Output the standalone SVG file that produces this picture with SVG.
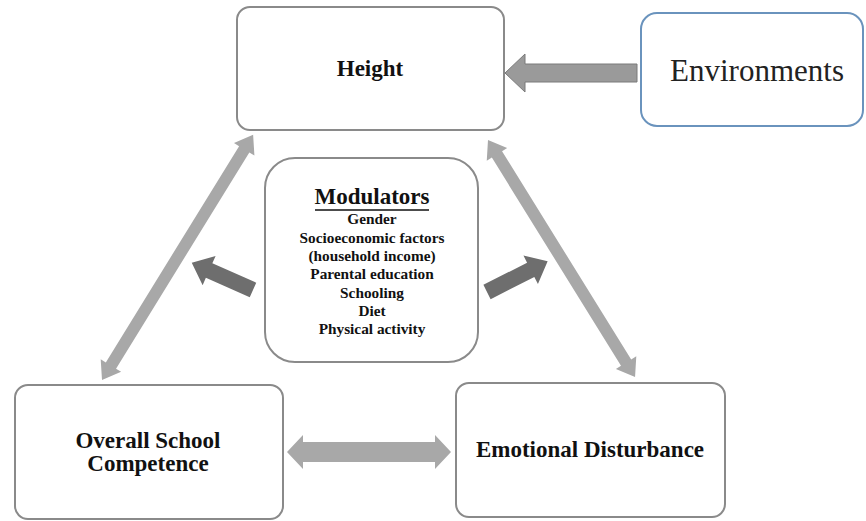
<svg xmlns="http://www.w3.org/2000/svg" width="866" height="521" viewBox="0 0 866 521">
  <defs>
    <style>
      .box { fill: #ffffff; stroke: #8a8a8a; stroke-width: 2; }
      .env { fill: #ffffff; stroke: #6a93bd; stroke-width: 2; }
      .lbl { font-family: "Liberation Serif", "Times New Roman", serif; font-weight: bold; font-size: 23px; fill: #111; text-anchor: middle; }
      .env-lbl { font-family: "Liberation Serif", "Times New Roman", serif; font-size: 31px; fill: #222; text-anchor: middle; }
      .mod-title { font-family: "Liberation Serif", "Times New Roman", serif; font-weight: bold; font-size: 23px; fill: #111; text-anchor: middle; }
      .mod-item { font-family: "Liberation Serif", "Times New Roman", serif; font-weight: bold; font-size: 15.3px; fill: #111; text-anchor: middle; }
      .link { fill: #a8a8a8; }
      .mod-arrow { fill: #6e6e6e; }
      .env-arrow { fill: #9a9a9a; stroke: #7a7a7a; stroke-width: 1; }
    </style>
  </defs>

  <rect width="866" height="521" fill="#ffffff"/>

  <!-- connectors -->
  <g id="connectors">
    <!-- Height <-> Overall School Competence -->
    <polygon class="link" transform="translate(102,380) rotate(-58.35)"
      points="0,0 17,-12 17,-6 271,-6 271,-12 288,0 271,12 271,6 17,6 17,12"/>
    <!-- Height <-> Emotional Disturbance -->
    <polygon class="link" transform="translate(488,140) rotate(58.19)"
      points="0,0 17,-12 17,-6 262,-6 262,-12 279,0 262,12 262,6 17,6 17,12"/>
    <!-- Overall School Competence <-> Emotional Disturbance -->
    <polygon class="link" transform="translate(287,452)"
      points="0,0 16,-17 16,-10 148,-10 148,-17 164,0 148,17 148,10 16,10 16,17"/>
    <!-- Environments -> Height -->
    <polygon class="env-arrow"
      points="505,73 525,54 525,64 637,64 637,82 525,82 525,92"/>
    <!-- Modulators -> left link -->
    <polygon class="mod-arrow" transform="translate(253,290) rotate(-156.1)"
      points="0,-8 48,-8 48,-16 67,0 48,16 48,8 0,8"/>
    <!-- Modulators -> right link -->
    <polygon class="mod-arrow" transform="translate(487,292) rotate(-26.9)"
      points="0,-8 49,-8 49,-16 68,0 49,16 49,8 0,8"/>
  </g>

  <!-- nodes -->
  <g id="height">
    <rect class="box" x="237" y="7" width="267" height="123" rx="13"/>
    <text class="lbl" x="370" y="76">Height</text>
  </g>

  <g id="environments">
    <rect class="env" x="641" y="13" width="222" height="113" rx="16"/>
    <text class="env-lbl" x="757" y="81">Environments</text>
  </g>

  <g id="modulators">
    <rect class="box" x="265" y="158" width="213" height="204" rx="30"/>
    <text class="mod-title" x="372" y="204">Modulators</text>
    <line x1="315" y1="210" x2="429" y2="210" stroke="#111" stroke-width="1.5"/>
    <text class="mod-item" x="372" y="224">Gender</text>
    <text class="mod-item" x="372" y="243">Socioeconomic factors</text>
    <text class="mod-item" x="372" y="261">(household income)</text>
    <text class="mod-item" x="372" y="279">Parental education</text>
    <text class="mod-item" x="372" y="298">Schooling</text>
    <text class="mod-item" x="372" y="316">Diet</text>
    <text class="mod-item" x="372" y="334">Physical activity</text>
  </g>

  <g id="school-competence">
    <rect class="box" x="15" y="385" width="268" height="134" rx="13"/>
    <text class="lbl" x="148" y="448">Overall School</text>
    <text class="lbl" x="148" y="471">Competence</text>
  </g>

  <g id="emotional-disturbance">
    <rect class="box" x="456" y="383" width="269" height="134" rx="13"/>
    <text class="lbl" x="590" y="457">Emotional Disturbance</text>
  </g>
</svg>
